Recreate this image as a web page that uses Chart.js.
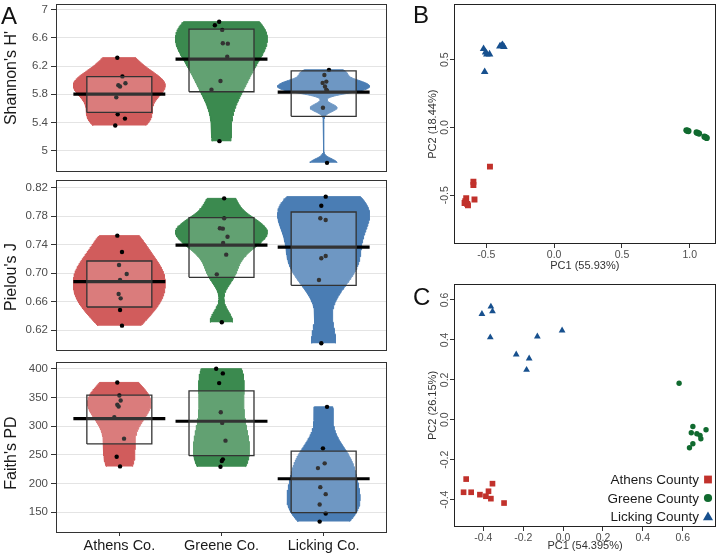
<!DOCTYPE html>
<html><head><meta charset="utf-8">
<script src="https://cdn.jsdelivr.net/npm/chart.js@4.4.0/dist/chart.umd.min.js"></script>
<style>
body{margin:0;width:720px;height:555px;background:#fff;position:relative;overflow:hidden;font-family:'Liberation Sans',Arial,sans-serif}
.box{position:absolute}
.lab{position:absolute;font-size:24px;line-height:24px;color:#111}
.ytl{position:absolute;font-size:16px;color:#1a1a1a;white-space:nowrap;transform:translate(-50%,-50%) rotate(-90deg)}
</style></head><body>
<div class="box" style="left:0;top:0"><canvas id="a1" width="392" height="176"></canvas></div>
<div class="box" style="left:0;top:176px"><canvas id="a2" width="392" height="180"></canvas></div>
<div class="box" style="left:0;top:356px"><canvas id="a3" width="392" height="199"></canvas></div>
<div class="box" style="left:400px;top:0"><canvas id="b" width="320" height="280"></canvas></div>
<div class="box" style="left:400px;top:280px"><canvas id="c" width="320" height="275"></canvas></div>
<div class="lab" style="left:1px;top:4px">A</div>
<div class="lab" style="left:413px;top:3px">B</div>
<div class="lab" style="left:413px;top:285px">C</div>
<div class="ytl" style="left:10.5px;top:78px">Shannon's H'</div>
<div class="ytl" style="left:10.5px;top:277px">Pielou's J</div>
<div class="ytl" style="left:10.5px;top:453px">Faith's PD</div>
<script>
// Data
const groups = ['Athens Co.', 'Greene Co.', 'Licking Co.'];
const counties = ['Athens County', 'Greene County', 'Licking County'];

const shannonTicks = [5, 5.4, 5.8, 6.2, 6.6, 7];
const shannonAthens  = [6.318, 6.053, 5.956, 5.928, 5.910, 5.756, 5.515, 5.455, 5.357];
const shannonGreene  = [6.828, 6.777, 6.712, 6.522, 6.517, 6.332, 5.988, 5.863, 5.135];
const shannonLicking = [6.146, 6.072, 5.979, 5.961, 5.909, 5.863, 5.849, 5.608, 4.828];
const shannonMean = [5.803, 6.299, 5.831];
const shannonLow  = [5.543, 5.835, 5.487];
const shannonHigh = [6.049, 6.722, 6.132];

const pielouTicks = [0.62, 0.66, 0.70, 0.74, 0.78, 0.82];
const pielouAthens  = [0.7526, 0.7296, 0.7113, 0.6987, 0.6903, 0.6706, 0.6645, 0.6481, 0.6261];
const pielouGreene  = [0.805, 0.7769, 0.7629, 0.7624, 0.7511, 0.7422, 0.7259, 0.6982, 0.6308];
const pielouLicking = [0.8074, 0.7947, 0.777, 0.7746, 0.724, 0.7208, 0.6903, 0.6014];
const pielouMean = [0.6879, 0.7394, 0.7366];
const pielouLow  = [0.6523, 0.694, 0.6828];
const pielouHigh = [0.717, 0.7778, 0.7858];

const faithTicks = [150, 200, 250, 300, 350, 400];
const faithAthens  = [376.1, 353.4, 344.6, 337.1, 334.1, 315.5, 278.2, 246.7, 229.8];
const faithGreene  = [400, 391.8, 374.9, 324.2, 305.6, 274.7, 242.1, 239.2, 229.3];
const faithLicking = [333.6, 261.3, 235.1, 226.9, 193.7, 181.5, 163.4, 147.7, 133.7];
const faithMean = [313.2, 308.5, 208.3];
const faithLow  = [268.9, 248.5, 149.4];
const faithHigh = [354, 361.5, 256.6];

// horizontal jitter of the dots (category units)
const shannonJit = [
  [-0.02, 0.03, 0.06, -0.01, 0.007, -0.03, -0.016, 0.055, -0.04],
  [-0.023, -0.065, 0.007, 0.013, 0.062, 0.056, -0.01, -0.098, -0.02],
  [0.052, 0.007, 0.026, -0.01, 0.013, 0.026, 0.033, -0.007, 0.033]];
const pielouJit = [
  [-0.02, 0.026, -0.003, 0.072, 0.007, -0.007, 0.013, 0.007, 0.026],
  [0.026, 0.026, -0.016, 0.013, 0.059, 0.016, 0.046, -0.046, 0.003],
  [0.02, -0.023, -0.033, 0.02, 0.02, -0.023, -0.046, -0.023]];
const faithJit = [
  [-0.02, 0, 0.013, -0.02, -0.007, -0.049, 0.046, -0.026, 0.007],
  [-0.052, 0.013, -0.023, -0.007, 0.007, 0.039, 0.013, 0.003, -0.01],
  [0.033, -0.007, 0.01, -0.056, -0.033, 0.02, -0.039, 0.02, -0.039]];

// PCA scores [PC1, PC2]
const athensB = [[-0.473,-0.289],[-0.595,-0.400],[-0.595,-0.425],[-0.587,-0.532],[-0.648,-0.522],[-0.66,-0.558],[-0.635,-0.575],[-0.655,-0.545],[-0.64,-0.565]];
const greeneB = [[0.975,-0.021],[0.99,-0.027],[0.983,-0.024],[1.05,-0.037],[1.068,-0.045],[1.06,-0.041],[1.108,-0.068],[1.125,-0.078],[1.118,-0.073]];
const lickingB = [[-0.52,0.58],[-0.496,0.54],[-0.476,0.54],[-0.512,0.41],[-0.40,0.598],[-0.38,0.61],[-0.37,0.595],[-0.39,0.603],[-0.505,0.555]];
const pcaBTicks = [-0.5, 0, 0.5, 1.0];
const pcaBYTicks = [-0.5, 0, 0.5];

const athensC = [[-0.486,-0.297],[-0.499,-0.363],[-0.461,-0.363],[-0.417,-0.375],[-0.374,-0.358],[-0.387,-0.383],[-0.362,-0.395],[-0.354,-0.32],[-0.296,-0.417]];
const greeneC = [[0.582,0.183],[0.651,-0.034],[0.717,-0.05],[0.643,-0.065],[0.671,-0.07],[0.687,-0.078],[0.691,-0.095],[0.651,-0.12],[0.634,-0.14]];
const lickingC = [[-0.407,0.53],[-0.362,0.567],[-0.354,0.543],[-0.365,0.413],[-0.235,0.327],[-0.17,0.307],[-0.183,0.25],[-0.129,0.417],[-0.005,0.447]];
const pcaCTicks = [-0.4, -0.2, 0, 0.2, 0.4, 0.6];
const pcaCYTicks = [-0.4, -0.2, 0, 0.2, 0.4, 0.6];

// Style
Chart.defaults.font.family = "'Liberation Sans', Arial, sans-serif";
const VCOL = ['#D15C5C', '#3B8A4F', '#4A7DB4'];
const PCOL = ['#C1312B', '#106A2F', '#17508E'];

// no extra room for tick labels outside the panel
const noPad = s => { s.paddingTop = 0; s.paddingBottom = 0; s.paddingLeft = 0; s.paddingRight = 0; };

// violin outline: gaussian kde (nrd0 bandwidth) trimmed to the data range
function violinPts(v, cx, half) {
  const s = [...v].sort((a, b) => a - b), n = s.length;
  const m = s.reduce((a, b) => a + b, 0) / n;
  const sd = Math.sqrt(s.reduce((a, b) => a + (b - m) ** 2, 0) / (n - 1));
  const q = p => { const h = (n - 1) * p, i = Math.floor(h); return s[i] + (h - i) * ((i + 1 < n ? s[i + 1] : s[i]) - s[i]); };
  let lo = Math.min(sd, (q(0.75) - q(0.25)) / 1.34);
  if (!(lo > 0)) lo = sd || 1;
  const bw = 0.9 * lo * Math.pow(n, -0.2);
  const ys = [], ds = [];
  for (let k = 0; k < 150; k++) {
    const y = s[0] + (s[n - 1] - s[0]) * k / 149;
    let d = 0;
    for (const x of s) d += Math.exp(-0.5 * ((y - x) / bw) ** 2);
    ys.push(y); ds.push(d);
  }
  const dm = Math.max(...ds);
  const right = ys.map((y, k) => ({ x: cx + half * ds[k] / dm, y }));
  const left = ys.map((y, k) => ({ x: cx - half * ds[k] / dm, y })).reverse();
  return right.concat(left);
}

const frame = color => ({
  id: 'frame',
  afterDraw(c) {
    const { ctx, chartArea: a } = c;
    ctx.save(); ctx.strokeStyle = color; ctx.lineWidth = 1;
    ctx.strokeRect(Math.round(a.left) + 0.5, Math.round(a.top) + 0.5, Math.round(a.right - a.left) - 1, Math.round(a.bottom - a.top) - 1);
    ctx.restore();
  }
});

function violinChart(id, series, jits, means, lows, highs, widths, ticks, yMin, yMax, fmt, showX, pad, xH) {
  const ds = [];
  series.forEach((vals, i) => {
    const cx = i + 1;
    ds.push({ type: 'line', data: violinPts(vals, cx, widths[i] / 2), backgroundColor: VCOL[i], borderColor: VCOL[i], borderWidth: 1, pointRadius: 0, fill: 'shape', tension: 0, order: 4 });
    ds.push({ type: 'scatter', data: vals.map((v, k) => ({ x: cx + jits[i][k], y: v })), backgroundColor: '#000', borderWidth: 0, pointRadius: 2.2, order: 3 });
    ds.push({ type: 'line', data: [{ x: cx - 0.45, y: means[i] }, { x: cx + 0.45, y: means[i] }], borderColor: '#000', borderWidth: 3.2, pointRadius: 0, fill: false, order: 2 });
    const bx0 = cx - 0.318, bx1 = cx + 0.318;
    ds.push({ type: 'line', data: [{ x: bx0, y: lows[i] }, { x: bx1, y: lows[i] }, { x: bx1, y: highs[i] }, { x: bx0, y: highs[i] }, { x: bx0, y: lows[i] }],
      backgroundColor: 'rgba(255,255,255,0.2)', borderColor: '#333', borderWidth: 1.3, pointRadius: 0, fill: 'shape', tension: 0, order: 1 });
  });
  return new Chart(document.getElementById(id), {
    type: 'scatter',
    data: { datasets: ds },
    options: {
      responsive: false, animation: false, events: [],
      layout: { padding: pad },
      plugins: { legend: { display: false }, tooltip: { enabled: false } },
      scales: {
        x: { type: 'linear', min: 0.38, max: 3.62, display: showX,
          grid: { display: true, drawOnChartArea: false, tickColor: '#333', tickLength: 3 }, border: { display: false },
          afterBuildTicks: s => { s.ticks = [1, 2, 3].map(v => ({ value: v })); },
          ticks: { callback: v => groups[Math.round(v) - 1], font: { size: 14.5 }, color: '#1a1a1a', padding: 1, maxRotation: 0, autoSkip: false },
          afterFit: s => { s.height = xH; noPad(s); } },
        y: { min: yMin, max: yMax,
          afterBuildTicks: s => { s.ticks = ticks.map(v => ({ value: v })); },
          ticks: { callback: fmt, font: { size: 11.5 }, color: '#4d4d4d', padding: 3 },
          grid: { color: '#e4e4e4', tickColor: '#333', tickLength: 5 }, border: { display: false },
          afterFit: s => { s.width = 56; noPad(s); } }
      }
    },
    plugins: [frame('#333')]
  });
}

violinChart('a1', [shannonAthens, shannonGreene, shannonLicking], shannonJit, shannonMean, shannonLow, shannonHigh,
  [0.9, 0.9, 0.9], shannonTicks, 4.698, 7.079, v => String(+v.toFixed(1)), false, { top: 1, right: 5, bottom: 4 }, 0);
violinChart('a2', [pielouAthens, pielouGreene, pielouLicking], pielouJit, pielouMean, pielouLow, pielouHigh,
  [0.9, 0.9, 0.9], pielouTicks, 0.5905, 0.8308, v => v.toFixed(2), false, { top: 4, right: 5, bottom: 5 }, 0);
violinChart('a3', [faithAthens, faithGreene, faithLicking], faithJit, faithMean, faithLow, faithHigh,
  [0.62, 0.55, 0.715], faithTicks, 113.8, 411.7, v => String(Math.round(v)), true, { top: 6, right: 5, bottom: 0 }, 22);

// rotated y tick labels (ggplot style)
const rotY = {
  id: 'rotY',
  afterDraw(c) {
    const s = c.scales.y, ctx = c.ctx;
    ctx.save();
    ctx.font = "10.5px 'Liberation Sans', Arial, sans-serif";
    ctx.fillStyle = '#4d4d4d'; ctx.textAlign = 'center'; ctx.textBaseline = 'middle';
    s.ticks.forEach(t => {
      ctx.save();
      ctx.translate(c.chartArea.left - 8.5, s.getPixelForValue(t.value));
      ctx.rotate(-Math.PI / 2);
      ctx.fillText(t.value.toFixed(1), 0, 0);
      ctx.restore();
    });
    ctx.restore();
  }
};

function drawMark(ctx, style, x, y, r) {
  ctx.beginPath();
  if (style === 'rect') ctx.rect(x - r, y - r, 2 * r, 2 * r);
  else if (style === 'circle') ctx.arc(x, y, r, 0, Math.PI * 2);
  else { ctx.moveTo(x, y - r * 1.1); ctx.lineTo(x + r * 1.1, y + r * 0.8); ctx.lineTo(x - r * 1.1, y + r * 0.8); ctx.closePath(); }
  ctx.fill();
}

const pcaLegend = {
  id: 'pcaLegend',
  afterDraw(c) {
    const ctx = c.ctx, a = c.chartArea;
    ctx.save();
    ctx.font = "13.5px 'Liberation Sans', Arial, sans-serif";
    ctx.textAlign = 'right'; ctx.textBaseline = 'alphabetic';
    const sz = [3.9, 4.1, 4.6];
    c.data.datasets.forEach((d, i) => {
      const yb = a.bottom - 43 + i * 18.5;
      ctx.fillStyle = '#1a1a1a';
      ctx.fillText(d.label, a.right - 17, yb);
      ctx.fillStyle = d.backgroundColor;
      drawMark(ctx, d.pointStyle, a.right - 8, yb - 4.5, sz[i]);
    });
    ctx.restore();
  }
};

function pcaChart(id, sets, radii, xMin, xMax, yMin, yMax, xTicks, yTicks, xTitle, yTitle, padTop, xH, titlePad, extra) {
  const styles = ['rect', 'circle', 'triangle'];
  return new Chart(document.getElementById(id), {
    type: 'scatter',
    data: { datasets: sets.map((s, i) => ({ label: counties[i], data: s.map(p => ({ x: p[0], y: p[1] })), pointStyle: styles[i],
      backgroundColor: PCOL[i], borderColor: PCOL[i], borderWidth: 0, pointRadius: radii[i] })) },
    options: {
      responsive: false, animation: false, events: [],
      layout: { padding: { top: padTop, right: 1, left: 0, bottom: 0 } },
      plugins: { legend: { display: false }, tooltip: { enabled: false } },
      scales: {
        x: { min: xMin, max: xMax,
          afterBuildTicks: s => { s.ticks = xTicks.map(v => ({ value: v })); },
          ticks: { callback: v => v.toFixed(1), font: { size: 10.5 }, color: '#4d4d4d', padding: 1, maxRotation: 0 },
          grid: { drawOnChartArea: false, tickColor: '#333', tickLength: 4 }, border: { display: false },
          title: { display: true, text: xTitle, font: { size: 11 }, color: '#333', padding: { top: 0, bottom: titlePad } },
          afterFit: s => { s.height = xH; noPad(s); } },
        y: { min: yMin, max: yMax,
          afterBuildTicks: s => { s.ticks = yTicks.map(v => ({ value: v })); },
          ticks: { color: 'rgba(0,0,0,0)', font: { size: 10.5 } },
          grid: { drawOnChartArea: false, tickColor: '#333', tickLength: 4 }, border: { display: false },
          title: { display: true, text: yTitle, font: { size: 11 }, color: '#333', padding: { top: 26, bottom: 0 } },
          afterFit: s => { s.width = 54; noPad(s); } }
      }
    },
    plugins: [frame('#222'), rotY].concat(extra)
  });
}

pcaChart('b', [athensB, greeneB, lickingB], [4.2, 3.1, 4.4], -0.738, 1.19, -0.86, 0.908,
  pcaBTicks, pcaBYTicks, 'PC1 (55.93%)', 'PC2 (18.44%)', 1, 36, 7.7, []);
pcaChart('c', [athensC, greeneC, lickingC], [4.0, 2.7, 3.9], -0.547, 0.767, -0.537, 0.68,
  pcaCTicks, pcaCYTicks, 'PC1 (54.395%)', 'PC2 (26.15%)', 3, 28, 2.7, [pcaLegend]);
</script>
</body></html>
